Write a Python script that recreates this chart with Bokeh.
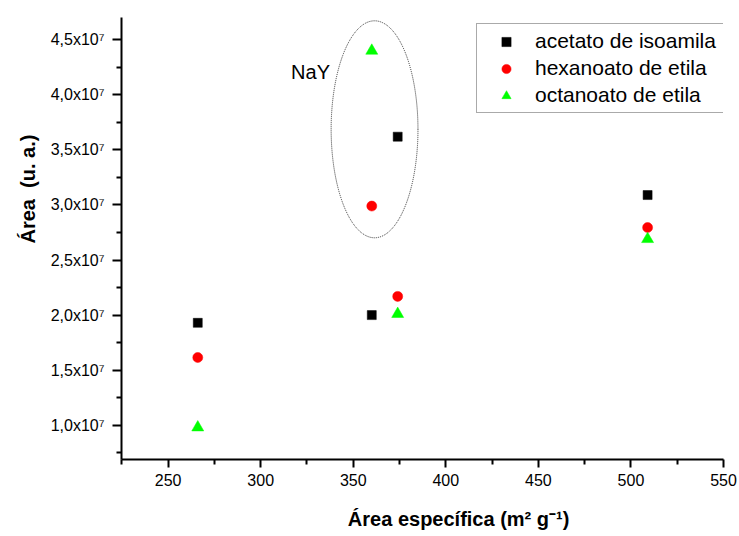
from bokeh.plotting import figure
from bokeh.models import (Range1d, FixedTicker, CustomJSTickFormatter, Label,
                          Legend, LegendItem, Title)
from bokeh.embed import file_html
from bokeh.resources import INLINE

# ---- data ----
area_especifica = [266, 360, 374, 509]
acetato_isoamila = [1.93e7, 2.00e7, 3.62e7, 3.09e7]
hexanoato_etila = [1.615e7, 2.99e7, 2.17e7, 2.795e7]
octanoato_etila = [0.98e7, 4.40e7, 2.01e7, 2.69e7]

x_ticks = [250, 300, 350, 400, 450, 500, 550]
x_minor = [225, 275, 325, 375, 425, 475, 525]
y_ticks = [1.0e7, 1.5e7, 2.0e7, 2.5e7, 3.0e7, 3.5e7, 4.0e7, 4.5e7]
y_minor = [0.75e7, 1.25e7, 1.75e7, 2.25e7, 2.75e7, 3.25e7, 3.75e7, 4.25e7]

series_names = ["acetato de isoamila", "hexanoato de etila", "octanoato de etila"]

FONT = "Liberation Sans"

p = figure(width=739, height=536, output_backend="svg", toolbar_location=None,
           x_range=Range1d(224.8, 550), y_range=Range1d(0.689e7, 4.702e7),
           min_border_left=121, min_border_right=16, min_border_top=17,
           min_border_bottom=77, x_axis_location="below", y_axis_location="left")
p.outline_line_color = None
p.grid.visible = False
p.background_fill_color = "white"
p.border_fill_color = "white"

r1 = p.scatter(area_especifica, acetato_isoamila, marker="square", size=9,
               fill_color="black", line_color="black", line_width=0.5)
r2 = p.scatter(area_especifica, hexanoato_etila, marker="circle", size=10,
               fill_color="#ff0000", line_color="#ff0000", line_width=0.5)
r3 = p.scatter(area_especifica, octanoato_etila, marker="triangle", size=12,
               fill_color="#00ff00", line_color="#00ff00", line_width=0.5)

# NaY ellipse annotation
p.ellipse(x=[361.5], y=[3.687e7], width=[46.9], height=[1.97e7],
          fill_color=None, line_color="#333333", line_width=1, line_dash="1 1")

p.add_layout(Label(x=316.4, y=4.204e7, text="NaY", text_font=FONT,
                   text_font_size="20px", text_color="black",
                   text_baseline="alphabetic", text_align="left"))

for ax in (p.xaxis[0], p.yaxis[0]):
    ax.axis_line_width = 2
    ax.axis_line_color = "black"
    ax.major_tick_line_width = 2
    ax.minor_tick_line_width = 2
    ax.major_tick_in = 0
    ax.minor_tick_in = 0
    ax.minor_tick_out = 5
    ax.major_label_text_font = FONT
    ax.major_label_text_font_size = "16px"
    ax.major_label_text_color = "black"

p.xaxis[0].ticker = FixedTicker(ticks=x_ticks, minor_ticks=x_minor)
p.xaxis[0].major_tick_out = 8
p.xaxis[0].major_label_standoff = 6
# x axis title (leading no-break spaces shift the centred title to the right, as in the reference)
p.xaxis[0].axis_label = "\u00a0" * 13 + "\u00c1rea espec\u00edfica (m\u00b2 g\u207b\u00b9)"
p.xaxis[0].axis_label_text_font = FONT
p.xaxis[0].axis_label_text_font_size = "20px"
p.xaxis[0].axis_label_text_font_style = "bold"
p.xaxis[0].axis_label_text_color = "black"
p.xaxis[0].axis_label_standoff = 19

p.yaxis[0].ticker = FixedTicker(ticks=y_ticks, minor_ticks=y_minor)
p.yaxis[0].major_tick_out = 9
p.yaxis[0].major_label_standoff = 8
p.yaxis[0].formatter = CustomJSTickFormatter(
    code="return (tick/1e7).toFixed(1).replace('.', ',') + 'x10\\u2077';")

ytitle = Title(text="\u00c1rea\u00a0\u00a0(u. a.)", align="left", offset=216,
               standoff=18, text_font=FONT, text_font_size="20px",
               text_font_style="bold", text_color="black")
p.add_layout(ytitle, "left")

legend = Legend(items=[LegendItem(label=series_names[0], renderers=[r1]),
                       LegendItem(label=series_names[1], renderers=[r2]),
                       LegendItem(label=series_names[2], renderers=[r3])],
                location=(355, 346))
legend.label_text_font = FONT
legend.label_text_font_size = "21px"
legend.label_text_color = "black"
legend.glyph_width = 48
legend.glyph_height = 23
legend.label_height = 23
legend.label_width = 260
legend.label_standoff = 5
legend.spacing = 3
legend.padding = 5
legend.margin = 0
legend.border_line_color = "#555555"
legend.border_line_width = 1
legend.background_fill_alpha = 1
p.add_layout(legend)

open("out.html", "w", encoding="utf-8").write(file_html(p, INLINE))
